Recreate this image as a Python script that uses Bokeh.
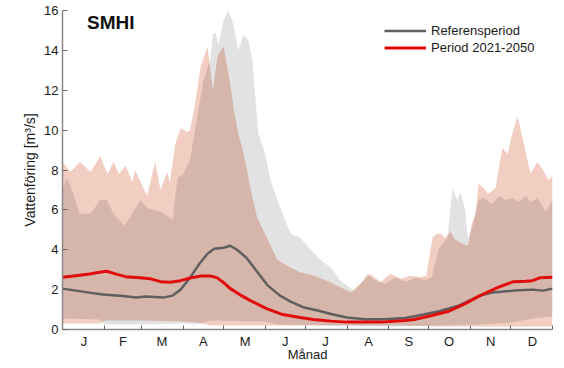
from bokeh.plotting import figure
from bokeh.models import FixedTicker, Label, Legend, LegendItem, Range1d
from bokeh.embed import file_html
from bokeh.resources import INLINE

# ---------------- data ----------------
month_labels = ["J", "F", "M", "A", "M", "J", "J", "A", "S", "O", "N", "D"]
month_starts = [0, 31, 59, 90, 120, 151, 181, 212, 243, 273, 304, 334, 365]
y_ticks = [0, 2, 4, 6, 8, 10, 12, 14, 16]

# Reference period mean (day of year, m3/s)
ref_mean_day = [0, 10, 20, 30, 45, 55, 62, 75, 82, 88, 95, 102, 108, 113, 120, 125, 130, 137, 145,
                153, 162, 170, 180, 190, 200, 212, 225, 240, 255, 265, 280, 295, 311, 320, 336, 350, 358, 365]
ref_mean = [2.05, 1.95, 1.85, 1.75, 1.68, 1.6, 1.65, 1.6, 1.7, 2.0, 2.6, 3.3, 3.8, 4.05, 4.1, 4.2, 4.0, 3.6, 2.9,
            2.2, 1.7, 1.4, 1.1, 0.95, 0.78, 0.6, 0.52, 0.52, 0.58, 0.7, 0.9, 1.2, 1.7, 1.85, 1.95, 2.0, 1.95, 2.05]

# Period 2021-2050 mean
fut_mean_day = [0, 10, 20, 30, 33, 40, 47, 58, 65, 73, 80, 88, 95, 103, 110, 115, 120, 125, 132, 140,
                152, 164, 177, 187, 200, 212, 237, 255, 262, 275, 287, 300, 311, 324, 336, 345, 350, 356, 365]
fut_mean = [2.62, 2.7, 2.78, 2.9, 2.92, 2.78, 2.65, 2.6, 2.55, 2.4, 2.37, 2.45, 2.58, 2.68, 2.68, 2.6, 2.35, 2.05, 1.75, 1.45,
            1.05, 0.75, 0.6, 0.5, 0.42, 0.37, 0.37, 0.45, 0.5, 0.7, 0.9, 1.3, 1.7, 2.1, 2.4, 2.42, 2.45, 2.6, 2.62]

# Period 2021-2050 envelope (max / min)
fut_max_day = [0, 6, 13, 21, 28, 33.5, 38, 42, 47, 52, 54, 63, 69, 73, 78, 80, 84, 88, 93, 95, 98, 103, 108,
               112, 115.5, 120, 125, 127.4, 131, 135, 140, 145, 153, 160, 170, 177, 185, 197, 207, 214.5, 222,
               229, 237, 244, 252, 259, 267, 271, 275.6, 279, 281.6, 285, 289, 292.7, 298, 302, 305, 307.6,
               310, 313.6, 317, 322.5, 327.7, 331.5, 335, 339, 343, 348.6, 353.8, 358, 362, 365]
fut_max = [8.4, 7.9, 8.4, 7.9, 8.7, 7.8, 8.4, 7.8, 8.2, 7.4, 8.0, 6.7, 8.4, 7.0, 7.9, 7.4, 9.3, 10.1, 9.9, 10.0, 11.0, 13.2, 14.2,
           12.0, 13.7, 14.2, 12.3, 11.1, 9.8, 8.8, 7.1, 5.6, 4.5, 3.5, 3.1, 2.87, 2.75, 2.45, 2.12, 1.87, 2.3,
           2.8, 2.37, 2.8, 2.55, 2.7, 2.62, 2.7, 4.6, 4.8, 4.8, 4.6, 4.9, 4.5, 4.3, 4.2, 5.3, 5.8,
           7.3, 7.1, 6.8, 7.1, 9.1, 8.8, 9.8, 10.7, 9.5, 7.8, 8.4, 8.0, 7.5, 7.7]
fut_min_day = [0, 28, 31, 60, 90, 100, 110, 150, 200, 250, 280, 310, 335, 350, 365]
fut_min = [0.3, 0.3, 0.45, 0.45, 0.4, 0.35, 0.2, 0.2, 0.2, 0.2, 0.15, 0.15, 0.15, 0.15, 0.15]

# Reference period envelope (max / min)
ref_max_day = [0, 3, 6, 13, 21, 28, 33, 38, 46, 52, 58, 63, 73, 80, 82, 85.7, 90, 95, 100, 105, 110,
               112, 114, 116, 120, 123.6, 127.4, 131, 134.8, 138.5, 141.5, 143.8, 146, 151, 155, 160, 165,
               170, 177, 185, 192, 200, 207, 214.5, 217, 222, 227, 232, 240, 248, 256, 263, 270, 275, 280,
               286.8, 290.5, 294, 296.5, 300, 302, 306, 310, 313.6, 320, 325, 330, 335, 340, 345, 348.6,
               354, 360, 365]
ref_max = [7.0, 7.6, 7.2, 5.8, 5.8, 6.5, 6.5, 5.8, 5.2, 5.8, 6.5, 6.1, 5.9, 5.6, 5.5, 7.6, 7.8, 8.5, 10.5, 12.5, 13.5,
           14.8, 14.9, 14.3, 15.5, 16.0, 15.3, 14.0, 14.8, 14.5, 13.5, 11.5, 9.8, 8.8, 7.5, 6.5, 5.6,
           4.8, 4.6, 4.0, 3.5, 3.1, 2.45, 2.1, 1.9, 2.3, 2.8, 2.5, 2.3, 2.6, 2.4, 2.6, 2.5, 2.6, 4.0,
           4.6, 7.1, 6.5, 6.9, 6.0, 4.5, 5.3, 6.5, 6.6, 6.3, 6.7, 6.5, 6.6, 6.4, 6.7, 6.4,
           6.6, 5.9, 6.5]
ref_min_day = [0, 28, 31, 60, 90, 100, 110, 150, 160, 200, 250, 280, 310, 335, 350, 365]
ref_min = [0.55, 0.5, 0.25, 0.25, 0.3, 0.25, 0.45, 0.4, 0.25, 0.2, 0.15, 0.2, 0.25, 0.35, 0.55, 0.65]

# ---------------- figure ----------------
p = figure(width=564, height=368, output_backend="svg", toolbar_location=None,
           x_range=Range1d(0, 365), y_range=Range1d(0, 16),
           min_border_left=62, min_border_right=12, min_border_top=10, min_border_bottom=39)
p.outline_line_color = None
p.xgrid.grid_line_color = None
p.ygrid.grid_line_color = None
p.background_fill_color = "white"

# bands
p.patch(fut_max_day + fut_min_day[::-1], fut_max + fut_min[::-1],
        fill_color="#f2cdc1", line_color=None)
p.patch(ref_max_day + ref_min_day[::-1], ref_max + ref_min[::-1],
        fill_color="black", fill_alpha=0.115, line_color=None)

# mean lines
r_ref = p.line(ref_mean_day, ref_mean, line_color="#5f5f5f", line_width=2.5)
r_fut = p.line(fut_mean_day, fut_mean, line_color="#e00c0c", line_width=3)

legend = Legend(items=[LegendItem(label="Referensperiod", renderers=[r_ref]),
                       LegendItem(label="Period 2021-2050", renderers=[r_fut])],
                location=(322, 273))
legend.border_line_color = None
legend.background_fill_alpha = 0
legend.glyph_width = 42
legend.glyph_height = 17
legend.label_height = 17
legend.spacing = 0
legend.padding = 6
legend.margin = 0
legend.label_standoff = 5
legend.label_text_font = "Liberation Sans"
legend.label_text_font_size = "13px"
legend.label_text_color = "#1a1a1a"
p.add_layout(legend)

# x axis: month letters at month centres, boundary ticks as minor ticks
centers = [int(round((month_starts[i] + month_starts[i + 1]) / 2)) for i in range(12)]
xa = p.xaxis[0]
xa.ticker = FixedTicker(ticks=centers, minor_ticks=month_starts)
xa.major_label_overrides = {c: lab for c, lab in zip(centers, month_labels)}
xa.major_tick_line_color = None
xa.minor_tick_in = 4
xa.minor_tick_out = 0
xa.minor_tick_line_color = "#6a6a6a"
xa.axis_line_color = "#8a8a8a"
xa.axis_line_width = 1.5
xa.major_label_standoff = -2
xa.major_label_text_font = "Liberation Sans"
xa.major_label_text_font_size = "13px"
xa.major_label_text_color = "#1a1a1a"
xa.axis_label = "Månad"
xa.axis_label_standoff = -5
xa.axis_label_text_font = "Liberation Sans"
xa.axis_label_text_font_size = "13px"
xa.axis_label_text_font_style = "normal"
xa.axis_label_text_color = "#1a1a1a"

ya = p.yaxis[0]
ya.ticker = FixedTicker(ticks=y_ticks)
ya.major_tick_in = 5
ya.major_tick_out = 0
ya.major_tick_line_color = "#6a6a6a"
ya.minor_tick_line_color = None
ya.axis_line_color = "#8a8a8a"
ya.axis_line_width = 1.5
ya.major_label_standoff = 4
ya.major_label_text_font = "Liberation Sans"
ya.major_label_text_font_size = "13px"
ya.major_label_text_color = "#1a1a1a"
ya.axis_label = "Vattenföring [m³/s]"
ya.axis_label_standoff = 3
ya.axis_label_text_font = "Liberation Sans"
ya.axis_label_text_font_size = "14px"
ya.axis_label_text_font_style = "normal"
ya.axis_label_text_color = "#1a1a1a"

# logo text
p.add_layout(Label(x=18.3, y=15.9, text="SMHI", text_align="left", text_baseline="top",
                   text_font="Liberation Sans", text_font_style="bold",
                   text_font_size="19px", text_color="#111111"))

open("out.html", "w").write(file_html(p, INLINE))
